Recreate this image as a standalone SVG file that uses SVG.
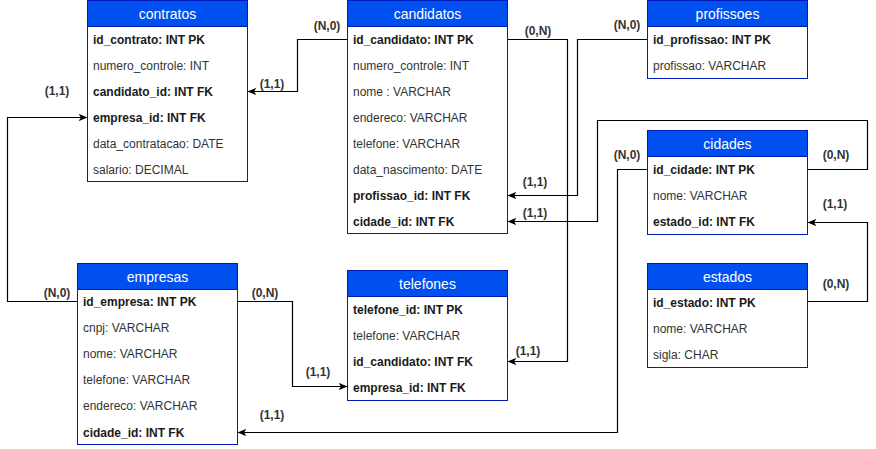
<svg xmlns="http://www.w3.org/2000/svg" width="876" height="449" viewBox="0 0 876 449">
<style>
.hdr{fill:#0050EF;stroke:#001DBC;stroke-width:1}
.box{fill:#FFFFFF;stroke:#001DBC;stroke-width:1}
.ht{font-family:"Liberation Sans",Arial,sans-serif;font-size:14px;fill:#FFFFFF;text-anchor:middle}
.r{font-family:"Liberation Sans",Arial,sans-serif;font-size:12px;fill:#333333}
.b{font-weight:bold;fill:#1a1a1a}
.lbl{font-family:"Liberation Sans",Arial,sans-serif;font-size:12px;font-weight:bold;fill:#333333;text-anchor:middle}
.c{fill:none;stroke:#000000;stroke-width:1.2}
.ca{fill:none;stroke:#000000;stroke-width:1.2;marker-end:url(#arr)}
</style>
<defs>
<marker id="arr" viewBox="0 0 10 8" refX="10" refY="4" markerWidth="9" markerHeight="7" markerUnits="userSpaceOnUse" orient="auto">
<path d="M0,0 L10,4 L0,8 L2.5,4 Z" fill="#000000"/>
</marker>
</defs>
<rect width="876" height="449" fill="#FFFFFF"/>

<g id="connectors">
<path class="ca" d="M347.5,39.5 H297.5 V91.5 H247.5"/>
<path class="ca" d="M77.5,301.5 H7.5 V117.5 H87.5"/>
<path class="ca" d="M507.5,39.5 H567.5 V361.5 H507.5"/>
<path class="ca" d="M647.5,39.5 H577.5 V195.5 H507.5"/>
<path class="ca" d="M807.5,169.5 H867.5 V120.5 H597.5 V221.5 H507.5"/>
<path class="ca" d="M647.5,169.5 H617.5 V432.5 H237.5"/>
<path class="ca" d="M807.5,301.5 H867.5 V222.5 H807.5"/>
<path class="ca" d="M237.5,301.5 H292.5 V386.5 H347.5"/>
<text class="lbl" x="327" y="30">(N,0)</text>
<text class="lbl" x="272" y="88">(1,1)</text>
<text class="lbl" x="57" y="95">(1,1)</text>
<text class="lbl" x="57" y="297">(N,0)</text>
<text class="lbl" x="265" y="297">(0,N)</text>
<text class="lbl" x="272" y="419">(1,1)</text>
<text class="lbl" x="318" y="376">(1,1)</text>
<text class="lbl" x="528" y="355">(1,1)</text>
<text class="lbl" x="538" y="35">(0,N)</text>
<text class="lbl" x="535" y="186">(1,1)</text>
<text class="lbl" x="535" y="217">(1,1)</text>
<text class="lbl" x="627" y="29">(N,0)</text>
<text class="lbl" x="627" y="159">(N,0)</text>
<text class="lbl" x="836" y="159">(0,N)</text>
<text class="lbl" x="835" y="208">(1,1)</text>
<text class="lbl" x="836" y="288">(0,N)</text>
</g>

<g id="contratos">
<rect class="box" x="87.5" y="0.5" width="160" height="181"/>
<rect class="hdr" x="87.5" y="0.5" width="160" height="26"/>
<text class="ht" x="167.5" y="19">contratos</text>
<text class="r b" x="93" y="44">id_contrato: INT PK</text>
<text class="r" x="93" y="70">numero_controle: INT</text>
<text class="r b" x="93" y="96">candidato_id: INT FK</text>
<text class="r b" x="93" y="122">empresa_id: INT FK</text>
<text class="r" x="93" y="148">data_contratacao: DATE</text>
<text class="r" x="93" y="174">salario: DECIMAL</text>
</g>

<g id="candidatos">
<rect class="box" x="347.5" y="0.5" width="160" height="233"/>
<rect class="hdr" x="347.5" y="0.5" width="160" height="26"/>
<text class="ht" x="427.5" y="19">candidatos</text>
<text class="r b" x="353" y="44">id_candidato: INT PK</text>
<text class="r" x="353" y="70">numero_controle: INT</text>
<text class="r" x="353" y="96">nome : VARCHAR</text>
<text class="r" x="353" y="122">endereco: VARCHAR</text>
<text class="r" x="353" y="148">telefone: VARCHAR</text>
<text class="r" x="353" y="174">data_nascimento: DATE</text>
<text class="r b" x="353" y="200">profissao_id: INT FK</text>
<text class="r b" x="353" y="226">cidade_id: INT FK</text>
</g>

<g id="profissoes">
<rect class="box" x="647.5" y="0.5" width="160" height="78"/>
<rect class="hdr" x="647.5" y="0.5" width="160" height="26"/>
<text class="ht" x="727.5" y="19">profissoes</text>
<text class="r b" x="653" y="44">id_profissao: INT PK</text>
<text class="r" x="653" y="70">profissao: VARCHAR</text>
</g>

<g id="cidades">
<rect class="box" x="647.5" y="130.5" width="160" height="104"/>
<rect class="hdr" x="647.5" y="130.5" width="160" height="26"/>
<text class="ht" x="727.5" y="149">cidades</text>
<text class="r b" x="653" y="174">id_cidade: INT PK</text>
<text class="r" x="653" y="200">nome: VARCHAR</text>
<text class="r b" x="653" y="226">estado_id: INT FK</text>
</g>

<g id="empresas">
<rect class="box" x="77.5" y="263.5" width="160" height="181"/>
<rect class="hdr" x="77.5" y="263.5" width="160" height="26"/>
<text class="ht" x="157.5" y="282">empresas</text>
<text class="r b" x="83" y="306">id_empresa: INT PK</text>
<text class="r" x="83" y="332">cnpj: VARCHAR</text>
<text class="r" x="83" y="358">nome: VARCHAR</text>
<text class="r" x="83" y="384">telefone: VARCHAR</text>
<text class="r" x="83" y="410">endereco: VARCHAR</text>
<text class="r b" x="83" y="437">cidade_id: INT FK</text>
</g>

<g id="telefones">
<rect class="box" x="347.5" y="270.5" width="160" height="130"/>
<rect class="hdr" x="347.5" y="270.5" width="160" height="26"/>
<text class="ht" x="427.5" y="289">telefones</text>
<text class="r b" x="353" y="314">telefone_id: INT PK</text>
<text class="r" x="353" y="340">telefone: VARCHAR</text>
<text class="r b" x="353" y="366">id_candidato: INT FK</text>
<text class="r b" x="353" y="392">empresa_id: INT FK</text>
</g>

<g id="estados">
<rect class="box" x="647.5" y="263.5" width="160" height="104"/>
<rect class="hdr" x="647.5" y="263.5" width="160" height="26"/>
<text class="ht" x="727.5" y="282">estados</text>
<text class="r b" x="653" y="307">id_estado: INT PK</text>
<text class="r" x="653" y="333">nome: VARCHAR</text>
<text class="r" x="653" y="359">sigla: CHAR</text>
</g>
</svg>
